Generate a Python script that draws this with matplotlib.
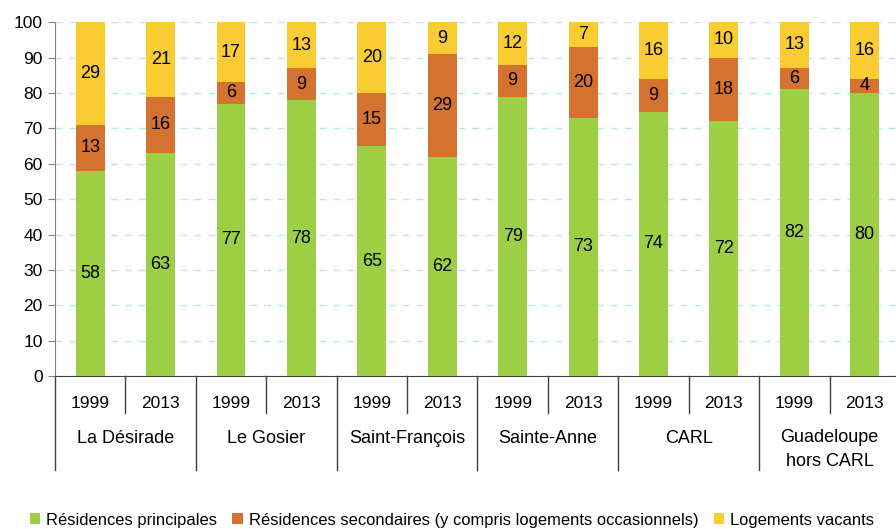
import matplotlib.pyplot as plt
import matplotlib.transforms as mtransforms
from matplotlib.patches import Patch
import numpy as np

plt.rcParams['font.family'] = ['Liberation Sans', 'DejaVu Sans']

# ---------------------------
# Data (shares in %, labels as printed)
# ---------------------------
groups = ['La Désirade', 'Le Gosier', 'Saint-François', 'Sainte-Anne', 'CARL', 'Guadeloupe\nhors CARL']
years = ['1999', '2013']

principales = [58, 63, 77, 78, 65, 62, 79, 73, 74, 72, 82, 80]
secondaires = [13, 16, 6, 9, 15, 29, 9, 20, 9, 18, 6, 4]
vacants = [29, 21, 17, 13, 20, 9, 12, 7, 16, 10, 13, 16]

series_names = ['Résidences principales',
                'Résidences secondaires (y compris logements occasionnels)',
                'Logements vacants']
colors = ['#9ccf43', '#d4722f', '#f9cc32']

# ---------------------------
# Figure
# ---------------------------
fig = plt.figure(figsize=(8.96, 5.29), dpi=100)
ax = fig.add_axes([0.0614, 0.289, 0.943, 0.669])

data = np.array([principales, secondaires, vacants], dtype=float)
# rounded shares don't always sum to 100 -> each bar is drawn as 100 %
heights = data / data.sum(axis=0) * 100

x = np.arange(data.shape[1])
bottom = np.zeros(len(x))
for vals, labels, col in zip(heights, data, colors):
    ax.bar(x, vals, bottom=bottom, width=0.41, color=col, zorder=3)
    for xi, b, v, lab in zip(x, bottom, vals, labels):
        ax.text(xi, b + v / 2, f'{int(lab)}', ha='center', va='center',
                fontsize=13, color='black', zorder=4)
    bottom += vals

ax.set_xlim(-0.5, len(x) - 0.5)
ax.set_ylim(0, 100)
ax.set_yticks(range(0, 101, 10))
ax.tick_params(axis='y', labelsize=12.5, length=5, color='#808080', pad=4)
ax.set_xticks([])
ax.yaxis.grid(True, linestyle=(0, (5, 5)), color='#b3eaf2', linewidth=1, zorder=0)

for s in ['top', 'right']:
    ax.spines[s].set_visible(False)
ax.spines['left'].set_color('#808080')
ax.spines['bottom'].set_color('#404040')

# two-level category axis
trans = mtransforms.blended_transform_factory(ax.transData, ax.transAxes)
for i in range(len(x) + 1):
    xs = i - 0.5
    if i % 2 == 0:
        ax.plot([xs, xs], [0, -0.266], transform=trans, color='#404040', lw=1, clip_on=False)
    else:
        ax.plot([xs, xs], [0, -0.105], transform=trans, color='#404040', lw=1, clip_on=False)

for i in range(len(x)):
    ax.text(i, -0.076, years[i % 2], transform=trans, ha='center', va='center', fontsize=12.5)

for g, name in enumerate(groups):
    yy = -0.175 if '\n' not in name else -0.208
    ax.text(2 * g + 0.5, yy, name, transform=trans, ha='center', va='center',
            fontsize=13, linespacing=1.5)

handles = [Patch(facecolor=c, edgecolor='none') for c in colors]
fig.legend(handles, series_names, loc='center left', bbox_to_anchor=(0.0257, 0.017),
           ncol=3, frameon=False, fontsize=11.9, handlelength=0.62, handleheight=0.62,
           handletextpad=0.4, columnspacing=0.9, borderaxespad=0)

fig.savefig('out.png', dpi=100)
